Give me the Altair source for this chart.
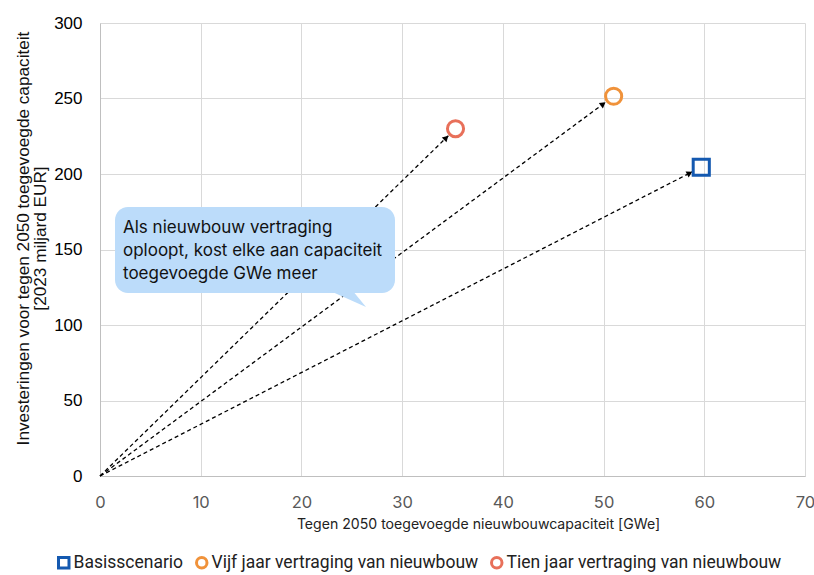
import math
import altair as alt
import pandas as pd

# Scenario results: capacity added by 2050 (GWe) and investment (billion EUR 2023)
scenarios = ["Basisscenario", "Vijf jaar vertraging van nieuwbouw", "Tien jaar vertraging van nieuwbouw"]
capaciteit = [59.7, 51.0, 35.3]
investering = [204.5, 251.5, 230.0]
kleuren = ["#1459B0", "#F0923A", "#E8705A"]
vormen = ["square", "circle", "circle"]

x_ticks = [0, 10, 20, 30, 40, 50, 60, 70]
y_ticks = [0, 50, 100, 150, 200, 250, 300]

callout_lines = ["Als nieuwbouw vertraging", "oploopt, kost elke aan capaciteit", "toegevoegde GWe meer"]

# plot area size in pixels and axis ranges
W, H = 705, 453
XMAX, YMAX = 70, 300
px_x = W / XMAX
px_y = H / YMAX

df = pd.DataFrame({"scenario": scenarios, "x": capaciteit, "y": investering})

# Arrows from the origin to just short of each marker
arrow_rows, head_rows = [], []
for s, x, y in zip(scenarios, capaciteit, investering):
    dxp, dyp = x * px_x, y * px_y
    length = math.hypot(dxp, dyp)
    tip = 1 - 9 / length
    ctr = 1 - 13 / length
    arrow_rows += [{"scenario": s, "x": 0, "y": 0, "o": 0},
                   {"scenario": s, "x": x * tip, "y": y * tip, "o": 1}]
    head_rows.append({"scenario": s, "x": x * ctr, "y": y * ctr,
                      "angle": math.degrees(math.atan2(dxp, dyp))})
arrows = pd.DataFrame(arrow_rows)
heads = pd.DataFrame(head_rows)

xs = alt.Scale(domain=[0, XMAX], nice=False)
ys = alt.Scale(domain=[0, YMAX], nice=False)

x_axis = alt.Axis(values=x_ticks, title="Tegen 2050 toegevoegde nieuwbouwcapaciteit [GWe]",
                  grid=True, ticks=False, labelPadding=18, titlePadding=7, labelFlush=False,
                  labelFont="Inter", labelFontSize=16.5, labelColor="#595959",
                  titleFont="Inter", titleFontSize=14.1, titleColor="#222", titleX=378)
y_axis = alt.Axis(values=y_ticks, title=["Investeringen voor tegen 2050 toegevoegde capaciteit", "[2023 miljard EUR]"],
                  grid=True, ticks=False, labelPadding=18, titlePadding=4, labelFlush=False,
                  labelFont="Liberation Sans", labelFontSize=17, labelColor="#000",
                  titleFont="Liberation Sans", titleFontSize=17.2, titleLineHeight=17, titleColor="#111",
                  titleY=215)

grid = alt.Chart(pd.DataFrame({"x": [0], "y": [0]})).mark_point(opacity=0).encode(
    x=alt.X("x:Q", scale=xs, axis=x_axis),
    y=alt.Y("y:Q", scale=ys, axis=y_axis),
)

lines = alt.Chart(arrows).mark_line(color="black", strokeWidth=1.3, strokeDash=[4, 3]).encode(
    x=alt.X("x:Q", scale=xs), y=alt.Y("y:Q", scale=ys), detail="scenario:N", order="o:Q"
)

arrowheads = alt.Chart(heads).mark_point(shape="triangle-up", filled=True, color="black", size=45, opacity=1).encode(
    x=alt.X("x:Q", scale=xs), y=alt.Y("y:Q", scale=ys), angle=alt.Angle("angle:Q", scale=None)
)

markers = alt.Chart(df).mark_point(filled=False, strokeWidth=3, size=260, opacity=1).encode(
    x=alt.X("x:Q", scale=xs),
    y=alt.Y("y:Q", scale=ys),
    color=alt.Color("scenario:N", scale=alt.Scale(domain=scenarios, range=kleuren), sort=scenarios,
                    legend=alt.Legend(title=None, orient="none", direction="horizontal",
                                      legendX=-45, legendY=H + 78,
                                      labelFont="Roboto", labelFontSize=17.5,
                                      labelColor="#222", labelLimit=0, symbolStrokeWidth=3,
                                      symbolSize=110, columnPadding=6, labelOffset=1)),
    shape=alt.Shape("scenario:N", scale=alt.Scale(domain=scenarios, range=vormen), sort=scenarios),
)

# Speech-bubble callout: rounded box plus a small tail
bubble_color = "#BCDCFA"
box = alt.Chart(pd.DataFrame({"a": [0]})).mark_rect(color=bubble_color, cornerRadius=13).encode(
    x=alt.value(15), x2=alt.value(295), y=alt.value(184), y2=alt.value(270)
)
tail = alt.Chart(pd.DataFrame({"a": [0]})).mark_point(
    shape="M-0.95,-0.45L0.25,-0.45L0.95,0.4Z", size=1600, filled=True, color=bubble_color, opacity=1
).encode(x=alt.value(247), y=alt.value(276))
text = alt.Chart(pd.DataFrame({"a": [0]})).mark_text(
    align="left", baseline="top", font="Inter", fontSize=17, lineHeight=23, color="#111",
    text=callout_lines
).encode(x=alt.value(23), y=alt.value(197))

chart = alt.layer(grid, lines, arrowheads, box, tail, text, markers).properties(
    width=W, height=H, autosize="none",
    padding={"left": 100, "top": 23, "right": 9, "bottom": 99},
).configure_view(stroke=None).configure_axis(
    gridColor="#D9D9D9", domainColor="#BFBFBF", titleFontWeight="normal",
)

chart.save("out.html", embed_options={"renderer": "svg", "actions": False})
